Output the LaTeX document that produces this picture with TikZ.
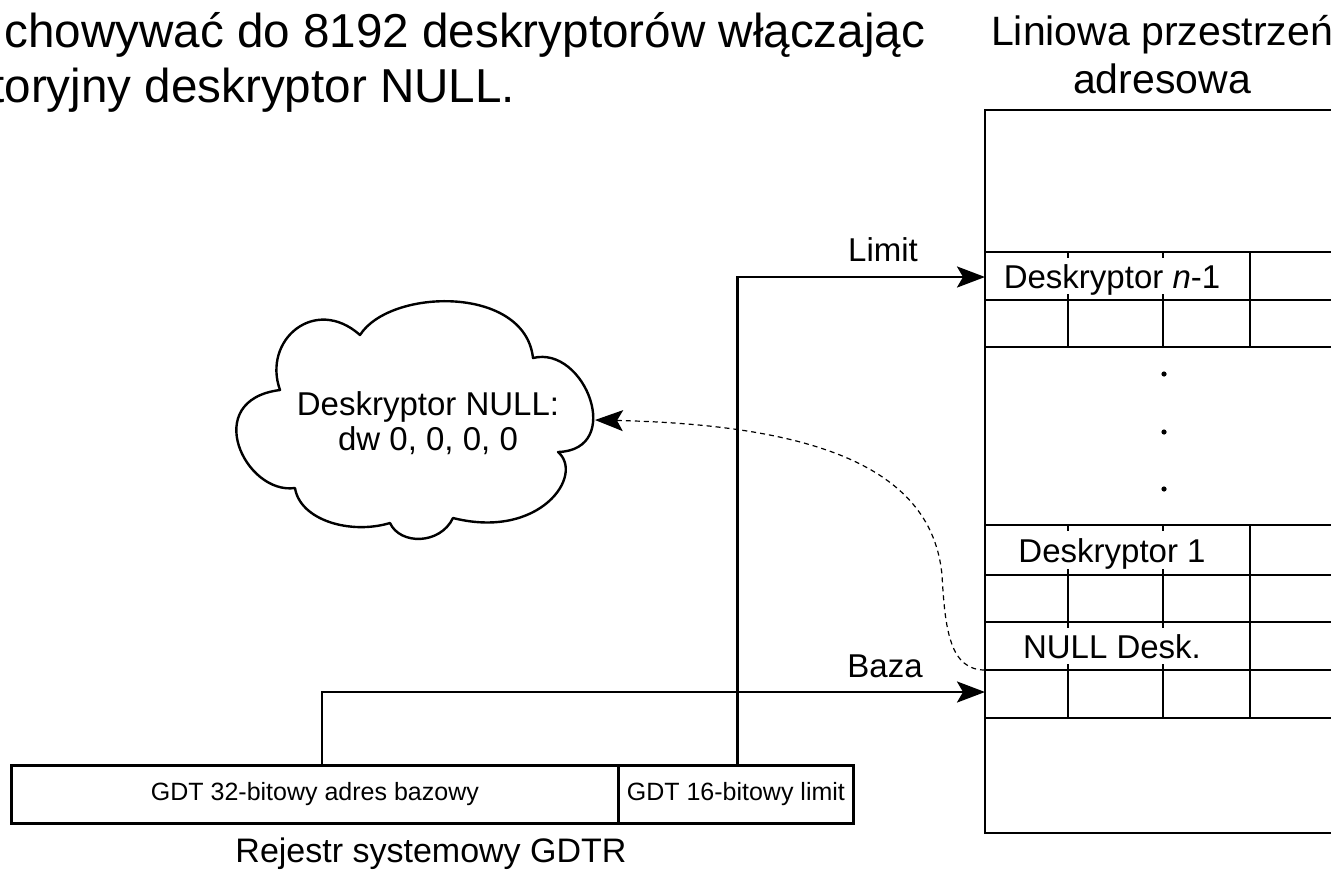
\documentclass[tikz,border=0pt]{standalone}
\usepackage{fontspec}
\setmainfont{Liberation Sans}
\usetikzlibrary{arrows.meta}
\begin{document}
\begin{tikzpicture}[x=0.5pt,y=-0.5pt,
  mline/.style={line width=1.4pt},
  arr/.style={line width=1.4pt,-{Stealth[length=14pt,width=10.5pt,inset=3pt]}},
  darr/.style={line width=0.6pt,dash pattern=on 2.5pt off 2pt,-{Stealth[length=14pt,width=10.5pt,inset=3pt]}},
  lbl/.style={font=\fontsize{16.5}{19}\selectfont,inner sep=0pt,anchor=base},
  big/.style={font=\fontsize{23.8}{28}\selectfont,inner sep=0pt,anchor=base west},
  hdr/.style={font=\fontsize{20.5}{24}\selectfont,inner sep=0pt,anchor=base},
  reg/.style={draw,line width=1.4pt,anchor=north west,inner sep=0pt,minimum height=29pt,font=\fontsize{12.5}{14}\selectfont}]
\useasboundingbox (0,0) rectangle (1331,873);
\clip (0,0) rectangle (1331,873);

% top text
\node[big] (t1) at (4,47) {chowywać do 8192 deskryptorów włączając};
\node[big] (t2) at (-9,102) {toryjny deskryptor NULL.};

% header
\node[hdr] (h1) at (1162,45) {Liniowa przestrzeń};
\node[hdr] (h2) at (1162,93) {adresowa};

% memory table
\draw[mline] (1345,110) -- (985,110) -- (985,833) -- (1345,833);
\foreach \yy in {252,300,347,525,575,622,670,718}
  \draw[mline] (985,\yy) -- (1345,\yy);
\draw[mline] (1250,252) -- (1250,347);
\draw[mline] (1250,525) -- (1250,718);
\foreach \xx in {1068,1163}{
  \foreach \ya/\yb in {300/347,575/622,670/718}
    \draw[mline] (\xx,\ya) -- (\xx,\yb);
  \foreach \ya/\yb in {252/300,525/575,622/670}{
    \draw[mline] (\xx,\ya) -- (\xx,\ya+6);
    \draw[mline] (\xx,\yb-6) -- (\xx,\yb);
  }
}
\node[lbl] (dn1) at (1112,288) {Deskryptor \textit{n}-1};
\node[lbl] (d1) at (1112,562) {Deskryptor 1};
\node[lbl] (dnull) at (1112,658) {NULL Desk.};
\foreach \yy in {374,432,489}
  \fill (1164,\yy) circle (1.3pt);

\coordinate (limT) at (985,277);
\coordinate (bazT) at (985,692);
\coordinate (nullB) at (985,670);

% register
\node[reg,minimum width=303.5pt] (rbase) at (10,764) {GDT 32-bitowy adres bazowy};
\node[reg,minimum width=117.5pt] (rlim) at (617,764) {GDT 16-bitowy limit};
\node[font=\fontsize{17}{20}\selectfont,inner sep=0pt,anchor=base] (rname) at (431,862) {Rejestr systemowy GDTR};

% arrows
\draw[arr] ([xshift=0.75pt]rlim.north) |- (limT);
\draw[arr] ([xshift=3.5pt]rbase.north) |- (bazT);
\node[lbl] (llim) at (883,261) {Limit};
\node[lbl] (lbaz) at (885,677) {Baza};

% cloud
\draw[line width=1.2pt,line join=round]
  (280,390) .. controls (262,340) and (315,295) .. (360,335)
  .. controls (390,288) and (525,285) .. (533,358)
  .. controls (585,345) and (625,450) .. (558,452)
  .. controls (585,475) and (540,540) .. (453,518)
  .. controls (440,545) and (400,545) .. (390,523)
  .. controls (350,535) and (300,520) .. (295,488)
  .. controls (245,495) and (200,400) .. (280,390) -- cycle;
\node[align=center,font=\fontsize{16.5}{17.5}\selectfont,inner sep=0pt] (cloud) at (428,423) {Deskryptor NULL:\\dw 0, 0, 0, 0};
\coordinate (cloudR) at (595,420);

\draw[darr] (nullB) .. controls (950,670) and (945,630) .. (942,575)
  .. controls (932,470) and (820,425) .. (cloudR);
\end{tikzpicture}
\end{document}
